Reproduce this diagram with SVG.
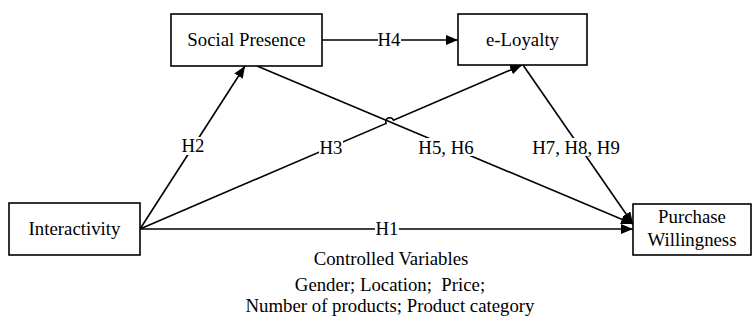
<svg xmlns="http://www.w3.org/2000/svg" width="752" height="322" viewBox="0 0 752 322">
<style>
.box{fill:#fff;stroke:#000;stroke-width:1.6}
.t{font-family:"Liberation Serif","Times New Roman",serif;font-size:18.8px;fill:#000;text-anchor:middle}
.ln{fill:none;stroke:#000;stroke-width:1.6}
.bg{fill:#fff}
</style>
<defs>
<marker id="ah" viewBox="0 0 12 10" refX="12" refY="5" markerWidth="12" markerHeight="10" markerUnits="userSpaceOnUse" orient="auto">
<path d="M0,0 L12,5 L0,10 Z" fill="#000"/>
</marker>
</defs>
<g id="connectors">
<line class="ln" x1="322" y1="40" x2="458" y2="40" marker-end="url(#ah)"/>
<line class="ln" x1="140" y1="229" x2="245" y2="66" marker-end="url(#ah)"/>
<path class="ln" d="M140,229 L386.1,123.4 A4,4 0 0 1 393.5,120.2 L522,65" marker-end="url(#ah)"/>
<line class="ln" x1="257" y1="66" x2="633" y2="224" marker-end="url(#ah)"/>
<line class="ln" x1="523" y1="65" x2="633" y2="224" marker-end="url(#ah)"/>
<line class="ln" x1="140" y1="229" x2="633" y2="229" marker-end="url(#ah)"/>
<rect class="bg" x="378" y="31" width="23" height="18"/>
<text class="t" x="389" y="46">H4</text>
<rect class="bg" x="181" y="137" width="24" height="18"/>
<text class="t" x="193" y="152">H2</text>
<rect class="bg" x="319" y="138" width="24" height="18"/>
<text class="t" x="331" y="154">H3</text>
<rect class="bg" x="417" y="138" width="58" height="18"/>
<text class="t" x="446" y="154">H5, H6</text>
<rect class="bg" x="536" y="138" width="80" height="18"/>
<text class="t" x="576" y="154">H7, H8, H9</text>
<rect class="bg" x="375" y="220" width="24" height="18"/>
<text class="t" x="387" y="235">H1</text>
</g>
<g id="social-presence">
<rect class="box" x="171" y="14" width="151" height="52"/>
<text class="t" x="246.5" y="46">Social Presence</text>
</g>
<g id="e-loyalty">
<rect class="box" x="458" y="14" width="129" height="51"/>
<text class="t" x="522.5" y="46">e-Loyalty</text>
</g>
<g id="interactivity">
<rect class="box" x="9" y="203" width="131" height="52"/>
<text class="t" x="74.5" y="235">Interactivity</text>
</g>
<g id="purchase-willingness">
<rect class="box" x="633" y="204" width="118" height="51"/>
<text class="t" x="692" y="223">Purchase</text>
<text class="t" x="692" y="246">Willingness</text>
</g>
<g id="controlled-variables">
<text class="t" x="391" y="265">Controlled Variables</text>
<text class="t" x="390" y="291" xml:space="preserve">Gender; Location;  Price;</text>
<text class="t" x="390" y="312">Number of products; Product category</text>
</g>
</svg>
